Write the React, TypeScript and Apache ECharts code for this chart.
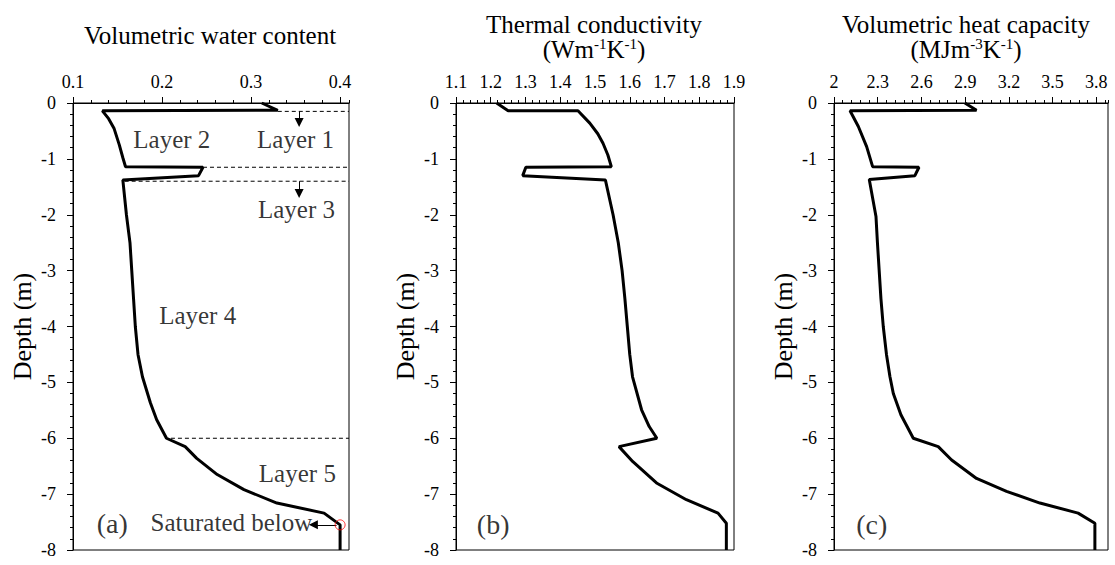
import React, { useEffect, useRef } from "react";
import * as echarts from "echarts";

const FONT = "'Liberation Serif', 'Times New Roman', serif";

// Panel (a): volumetric water content vs depth
const waterContent = [0.312, 0.33, 0.133, 0.14, 0.146, 0.152, 0.156, 0.159, 0.246, 0.241, 0.156, 0.16, 0.164, 0.166, 0.168, 0.17, 0.173, 0.178, 0.187, 0.194, 0.205, 0.226, 0.239, 0.262, 0.292, 0.329, 0.382, 0.4, 0.4];
const waterDepth = [0, -0.13, -0.14, -0.28, -0.45, -0.75, -0.98, -1.14, -1.15, -1.3, -1.38, -2.0, -2.5, -3.0, -3.5, -4.0, -4.5, -4.9, -5.37, -5.67, -6.0, -6.15, -6.36, -6.65, -6.92, -7.16, -7.34, -7.55, -8.0];

// Panel (b): thermal conductivity vs depth
const conductivity = [1.217, 1.25, 1.451, 1.485, 1.508, 1.523, 1.537, 1.547, 1.301, 1.292, 1.53, 1.552, 1.567, 1.578, 1.586, 1.593, 1.6, 1.608, 1.634, 1.656, 1.678, 1.569, 1.609, 1.677, 1.763, 1.854, 1.878, 1.878];
const conductivityDepth = [0, -0.14, -0.14, -0.36, -0.55, -0.72, -0.93, -1.14, -1.15, -1.3, -1.38, -2.0, -2.5, -3.0, -3.5, -4.0, -4.5, -4.9, -5.49, -5.79, -6.0, -6.15, -6.42, -6.8, -7.1, -7.34, -7.52, -8.0];

// Panel (c): volumetric heat capacity vs depth
const heatCapacity = [2.898, 2.978, 2.11, 2.167, 2.224, 2.265, 2.583, 2.555, 2.242, 2.288, 2.298, 2.31, 2.322, 2.338, 2.36, 2.384, 2.407, 2.459, 2.544, 2.715, 2.807, 2.978, 3.184, 3.413, 3.675, 3.79, 3.79];
const heatDepth = [0, -0.13, -0.14, -0.42, -0.78, -1.14, -1.15, -1.3, -1.37, -2.03, -2.5, -3.0, -3.5, -4.0, -4.5, -4.9, -5.2, -5.58, -6.0, -6.15, -6.39, -6.72, -6.95, -7.16, -7.34, -7.52, -8.0];

// Layer boundaries (panel a)
const boundaryDepth = [-0.15, -1.15, -1.4, -6.0];
const boundaryStart = [0.33, 0.246, 0.158, 0.21];

// Layer labels (panel a)
const layerText = ["Layer 1", "Layer 2", "Layer 3", "Layer 4", "Layer 5", "Saturated below"];
const layerX = [0.35, 0.211, 0.351, 0.24, 0.352, 0.278];
const layerDepth = [-0.66, -0.66, -1.91, -3.8, -6.63, -7.5];

// Down arrows (panel a)
const arrowX = [0.354, 0.354];
const arrowFrom = [-0.15, -1.4];
const arrowTo = [-0.35, -1.62];

// Saturation marker
const satX = 0.4;
const satDepth = -7.55;
const satArrowEnd = 0.37;

// Axes
const panelLetters = ["(a)", "(b)", "(c)"];
const letterX = [0.144, 1.207, 2.259];
const letterDepth = [-7.52, -7.55, -7.55];
const xMin = [0.1, 1.1, 2];
const xMax = [0.41, 1.9, 3.88];
const xMajor = [0.1, 0.1, 0.3];
const xMinor = [0.02, 0.02, 0.06];
const depthMin = -8;
const depthMax = 0;

const grids = [
  { left: 73, top: 103, width: 276, height: 447 },
  { left: 456, top: 103, width: 278, height: 447 },
  { left: 834, top: 103, width: 274, height: 447 },
];

function pairs(xs: number[], ys: number[]) {
  return xs.map((x, i) => [x, ys[i]]);
}

export default function App() {
  const ref = useRef<HTMLDivElement>(null);
  useEffect(() => {
    if (!ref.current) return;
    const chart = echarts.init(ref.current, undefined, { renderer: "svg" });

    const xAxis: any[] = [];
    const yAxis: any[] = [];
    for (let i = 0; i < 3; i++) {
      const showMax = Math.abs(Math.round((xMax[i] - xMin[i]) / xMajor[i]) * xMajor[i] - (xMax[i] - xMin[i])) < 1e-9;
      xAxis.push({
        type: "value", gridIndex: i, position: "top", min: xMin[i], max: xMax[i], interval: xMajor[i],
        axisLine: { show: true, onZero: false, lineStyle: { color: "#000", width: 1 } },
        axisTick: { show: true, length: 6, lineStyle: { color: "#000", width: 1 } },
        axisLabel: { show: true, margin: 12, fontSize: 18, color: "#000", fontFamily: FONT, showMaxLabel: showMax, showMinLabel: true },
        splitLine: { show: false },
      });
      xAxis.push({
        type: "value", gridIndex: i, position: "top", min: xMin[i], max: xMax[i], interval: xMinor[i],
        axisLine: { show: false }, axisLabel: { show: false }, splitLine: { show: false },
        axisTick: { show: true, length: 3, lineStyle: { color: "#000", width: 1 } },
      });
      yAxis.push({
        type: "value", gridIndex: i, position: "left", min: depthMin, max: depthMax, interval: 1,
        name: "Depth (m)", nameLocation: "middle", nameGap: 38, nameRotate: 90,
        nameTextStyle: { fontSize: 26, fontFamily: FONT, color: "#000" },
        axisLine: { show: true, onZero: false, lineStyle: { color: "#000", width: 1 } },
        axisTick: { show: true, length: 6, lineStyle: { color: "#000", width: 1 } },
        axisLabel: { show: true, margin: 17, fontSize: 18, color: "#000", fontFamily: FONT },
        splitLine: { show: false },
      });
      yAxis.push({
        type: "value", gridIndex: i, position: "left", min: depthMin, max: depthMax, interval: 0.2,
        axisLine: { show: false }, axisLabel: { show: false }, splitLine: { show: false },
        axisTick: { show: true, length: 3, lineStyle: { color: "#000", width: 1 } },
      });
    }

    const lineStyleMain = { color: "#000", width: 3 };
    const series: any[] = [];
    const profiles = [pairs(waterContent, waterDepth), pairs(conductivity, conductivityDepth), pairs(heatCapacity, heatDepth)];

    boundaryDepth.forEach((d, k) => {
      series.push({
        type: "line", xAxisIndex: 0, yAxisIndex: 0, symbol: "none", silent: true,
        data: [[boundaryStart[k], d], [xMax[0], d]],
        lineStyle: { color: "#000", width: 1, type: [4, 3] }, z: 2,
      });
    });

    profiles.forEach((data, i) => {
      series.push({
        type: "line", xAxisIndex: 2 * i, yAxisIndex: 2 * i, symbol: "none", data,
        lineStyle: lineStyleMain, z: 5,
      });
      series.push({
        type: "scatter", xAxisIndex: 2 * i, yAxisIndex: 2 * i, symbolSize: 1,
        itemStyle: { color: "rgba(0,0,0,0)" },
        data: [[letterX[i], letterDepth[i]]],
        label: { show: true, position: "inside", formatter: panelLetters[i], fontSize: 28, fontFamily: FONT, color: "#000" },
      });
    });

    series.push({
      type: "scatter", xAxisIndex: 0, yAxisIndex: 0, symbolSize: 1,
      itemStyle: { color: "rgba(0,0,0,0)" },
      data: layerText.map((t, k) => ({ value: [layerX[k], layerDepth[k]], name: t })),
      label: { show: true, position: "inside", formatter: (p: any) => p.name, fontSize: 25, fontFamily: FONT, color: "#000" },
    });

    series.push({
      type: "lines", coordinateSystem: "cartesian2d", xAxisIndex: 0, yAxisIndex: 0,
      symbol: ["none", "triangle"], symbolSize: [8, 9],
      lineStyle: { color: "#000", width: 1, opacity: 1 },
      data: [
        ...arrowX.map((x, k) => ({ coords: [[x, arrowFrom[k]], [x, arrowTo[k]]] })),
        { coords: [[satX - 0.004, satDepth], [satArrowEnd, satDepth]] },
      ],
      z: 6,
    });

    series.push({
      type: "scatter", xAxisIndex: 0, yAxisIndex: 0, symbol: "circle", symbolSize: 10,
      itemStyle: { color: "rgba(0,0,0,0)", borderColor: "#ff0000", borderWidth: 1 },
      data: [[satX, satDepth]], z: 7,
    });

    const sup = { fontSize: 15, fontFamily: FONT, color: "#000", verticalAlign: "top" };
    const titleStyle = (text: string, x: number, y: number) => ({
      type: "text", x, y,
      style: {
        text, fontSize: 25, fontFamily: FONT, fill: "#000", align: "center", verticalAlign: "middle",
        rich: { s: sup },
      },
    });

    chart.setOption({
      animation: false,
      backgroundColor: "#fff",
      grid: grids.map((g) => ({ ...g, show: true, borderColor: "#000", borderWidth: 1, backgroundColor: "transparent", containLabel: false })),
      xAxis,
      yAxis,
      series,
      graphic: [
        titleStyle("Volumetric water content", 210, 35),
        titleStyle("Thermal conductivity", 594, 24),
        titleStyle("(Wm{s|-1}K{s|-1})", 594, 49),
        titleStyle("Volumetric heat capacity", 966, 24),
        titleStyle("(MJm{s|-3}K{s|-1})", 966, 49),
      ],
    });
    return () => chart.dispose();
  }, []);
  return <div ref={ref} style={{ position: "fixed", left: 0, top: 0, width: 1115, height: 565, background: "#fff" }} />;
}
